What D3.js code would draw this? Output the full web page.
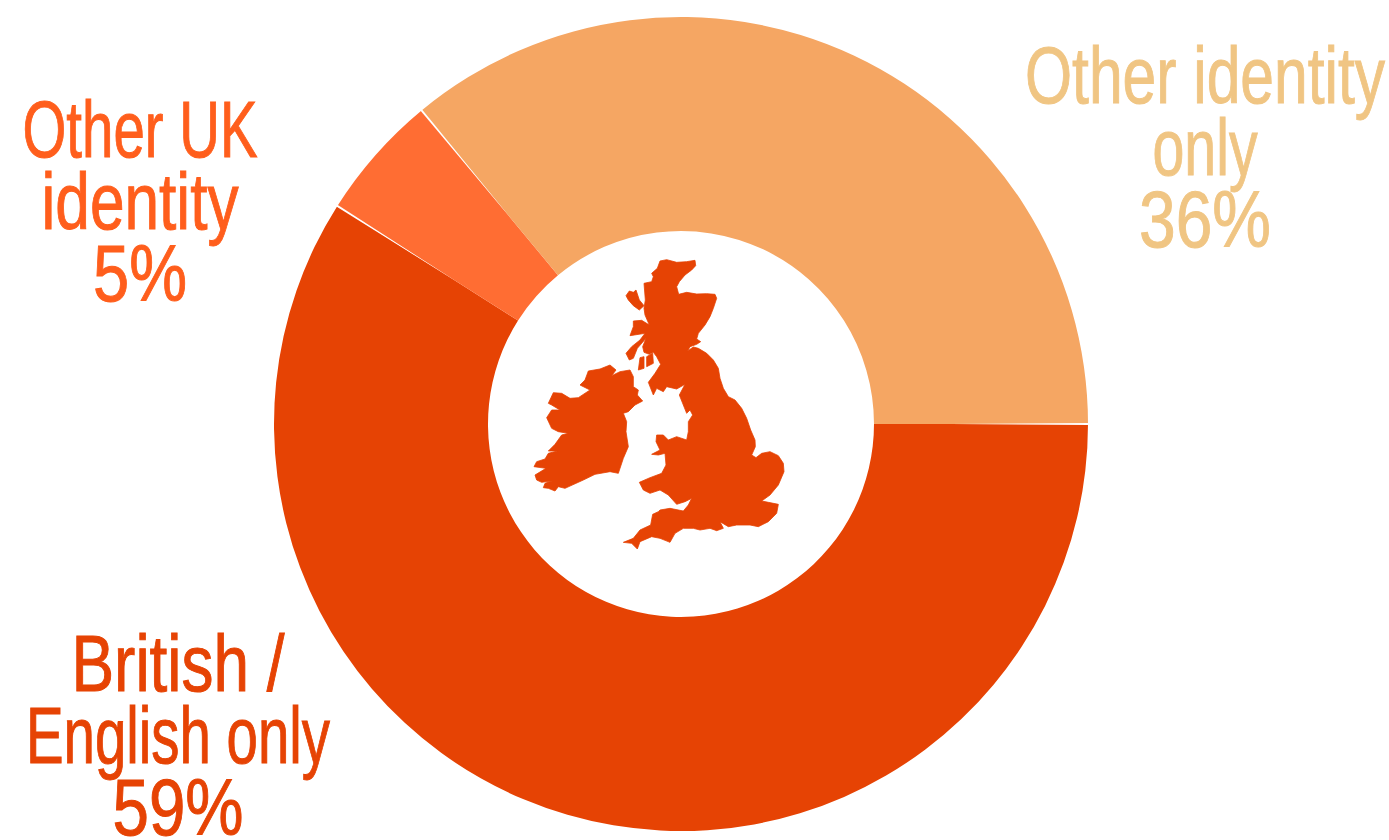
<!DOCTYPE html>
<html>
<head>
<meta charset="utf-8">
<script src="https://cdn.jsdelivr.net/npm/d3@7"></script>
<style>
    html, body { margin: 0; padding: 0; background: #fff; overflow: hidden; }
    text { font-family: "Liberation Sans Narrow", "Liberation Sans", sans-serif; text-anchor: middle; }
</style>
</head>
<body>
<svg id="chart" width="1389" height="840"></svg>
<script>
const categories = ["British / English only", "Other UK identity", "Other identity only"];
const shares = [59, 5, 36];
const sliceColors = ["#e64304", "#ff6d33", "#f5a663"];
const labelColors = ["#e64304", "#ff5e1c", "#f0c583"];
const labelLines = [
    ["British /", "English only", "59%"],
    ["Other UK", "identity", "5%"],
    ["Other identity", "only", "36%"]
];

// silhouette of the islands, traced in map units
const britain = [[420,48],[440,44],[470,52],[500,50],[525,46],[527,62],[515,75],[495,90],[478,110],[470,125],[476,148],[500,142],[530,147],[560,146],[585,148],[590,160],[580,190],[570,215],[555,240],[535,265],[530,282],[542,290],[530,298],[510,305],[503,318],[520,306],[535,310],[560,325],[580,345],[595,370],[600,400],[610,430],[625,455],[645,465],[665,490],[680,520],[692,555],[705,585],[706,605],[695,630],[708,638],[725,625],[750,620],[775,632],[790,655],[792,680],[775,720],[750,750],[725,768],[745,772],[775,778],[770,805],[745,830],[715,845],[690,840],[650,840],[625,845],[600,830],[610,850],[590,857],[570,850],[540,855],[520,850],[490,850],[465,865],[450,892],[420,880],[395,875],[360,890],[352,912],[335,895],[310,892],[340,880],[360,855],[392,840],[398,808],[415,800],[420,795],[450,790],[490,798],[505,780],[515,760],[495,770],[470,778],[445,750],[420,735],[390,745],[370,735],[358,712],[390,698],[425,685],[438,660],[435,625],[415,630],[395,628],[420,615],[408,590],[410,570],[430,570],[445,585],[470,575],[500,585],[505,560],[505,530],[518,510],[510,495],[500,505],[490,480],[478,450],[495,418],[470,432],[440,425],[430,440],[410,430],[400,450],[385,412],[405,385],[422,358],[410,335],[400,322],[388,328],[372,322],[368,305],[378,280],[352,310],[340,340],[328,345],[318,325],[335,305],[360,285],[375,265],[330,272],[340,245],[340,228],[365,226],[388,240],[375,210],[372,190],[376,165],[372,115],[395,110],[400,95],[395,85],[412,70]];
const ireland = [[205,378],[240,372],[270,360],[288,375],[275,392],[300,380],[330,375],[340,395],[340,425],[355,435],[352,450],[368,468],[345,480],[325,500],[310,505],[320,530],[318,560],[325,605],[310,640],[295,685],[270,680],[225,688],[190,705],[135,730],[115,725],[105,738],[85,730],[70,728],[75,715],[95,708],[65,712],[50,705],[45,690],[78,670],[42,665],[50,650],[75,642],[85,625],[112,618],[85,618],[105,598],[125,570],[145,565],[115,560],[95,550],[80,518],[95,495],[120,495],[95,480],[85,475],[100,443],[125,445],[150,460],[175,458],[210,435],[180,420],[195,405]];
const hebrides = [[318,152],[328,138],[340,142],[348,135],[358,165],[372,182],[358,195],[340,182],[325,165]];
const islay = [[355,375],[360,338],[372,335],[372,370]];
const arran = [[380,335],[398,325],[400,355],[380,365]];
const islands = [britain, ireland, hebrides, islay, arran];

const svg = d3.select("#chart");
const cx = 681, cy = 424, outerR = 407, innerR = 193;

const g = svg.append("g").attr("transform", "translate(" + cx + "," + cy + ")");

// clockwise from 3 o'clock
const pie = d3.pie().sort(null)
    .startAngle(Math.PI / 2)
    .endAngle(Math.PI / 2 + 2 * Math.PI);
const arc = d3.arc().innerRadius(innerR).outerRadius(outerR);

const slices = pie(shares);

g.selectAll("path.slice")
    .data(slices)
    .enter().append("path")
    .attr("class", "slice")
    .attr("fill", function (d, i) { return sliceColors[i]; })
    .attr("d", arc);

// thin white seams that fade out toward the hole
const seamLine = d3.line();
g.selectAll("path.seam")
    .data(slices)
    .enter().append("path")
    .attr("class", "seam")
    .attr("fill", "#fff")
    .attr("d", function (d) {
        const a = d.startAngle - Math.PI / 2;
        const ux = Math.cos(a), uy = Math.sin(a);
        return seamLine([
            [ux * 270, uy * 270],
            [ux * (outerR + 1) - uy, uy * (outerR + 1) + ux],
            [ux * (outerR + 1) + uy, uy * (outerR + 1) - ux]
        ]) + "Z";
    });

// map in the hole
const mapX = d3.scaleLinear().domain([0, 840]).range([520, 800]);
const mapY = d3.scaleLinear().domain([0, 930]).range([245, 555]);
const outline = d3.line()
    .x(function (d) { return mapX(d[0]); })
    .y(function (d) { return mapY(d[1]); })
    .curve(d3.curveLinearClosed);

svg.append("g").selectAll("path")
    .data(islands)
    .enter().append("path")
    .attr("fill", sliceColors[0])
    .attr("stroke", sliceColors[0])
    .attr("stroke-width", 0.8)
    .attr("stroke-linejoin", "round")
    .attr("d", outline);

// label layout: centre x, first baseline, width of each line
const labelX = [178, 140, 1205];
const labelY = [691, 157, 103];
const labelWidths = [[213, 304, 131], [235, 197, 94], [360, 105, 132]];
const lineStep = 72;

labelLines.forEach(function (lines, i) {
    svg.append("g")
        .attr("aria-label", categories[i])
        .selectAll("text")
        .data(lines)
        .enter().append("text")
        .attr("x", labelX[i])
        .attr("y", function (d, j) { return labelY[i] + j * lineStep; })
        .attr("font-size", 80)
        .attr("fill", labelColors[i])
        .attr("stroke", labelColors[i])
        .attr("stroke-width", 1)
        .attr("textLength", function (d, j) { return labelWidths[i][j]; })
        .attr("lengthAdjust", "spacingAndGlyphs")
        .text(function (d) { return d; });
});
</script>
</body>
</html>
